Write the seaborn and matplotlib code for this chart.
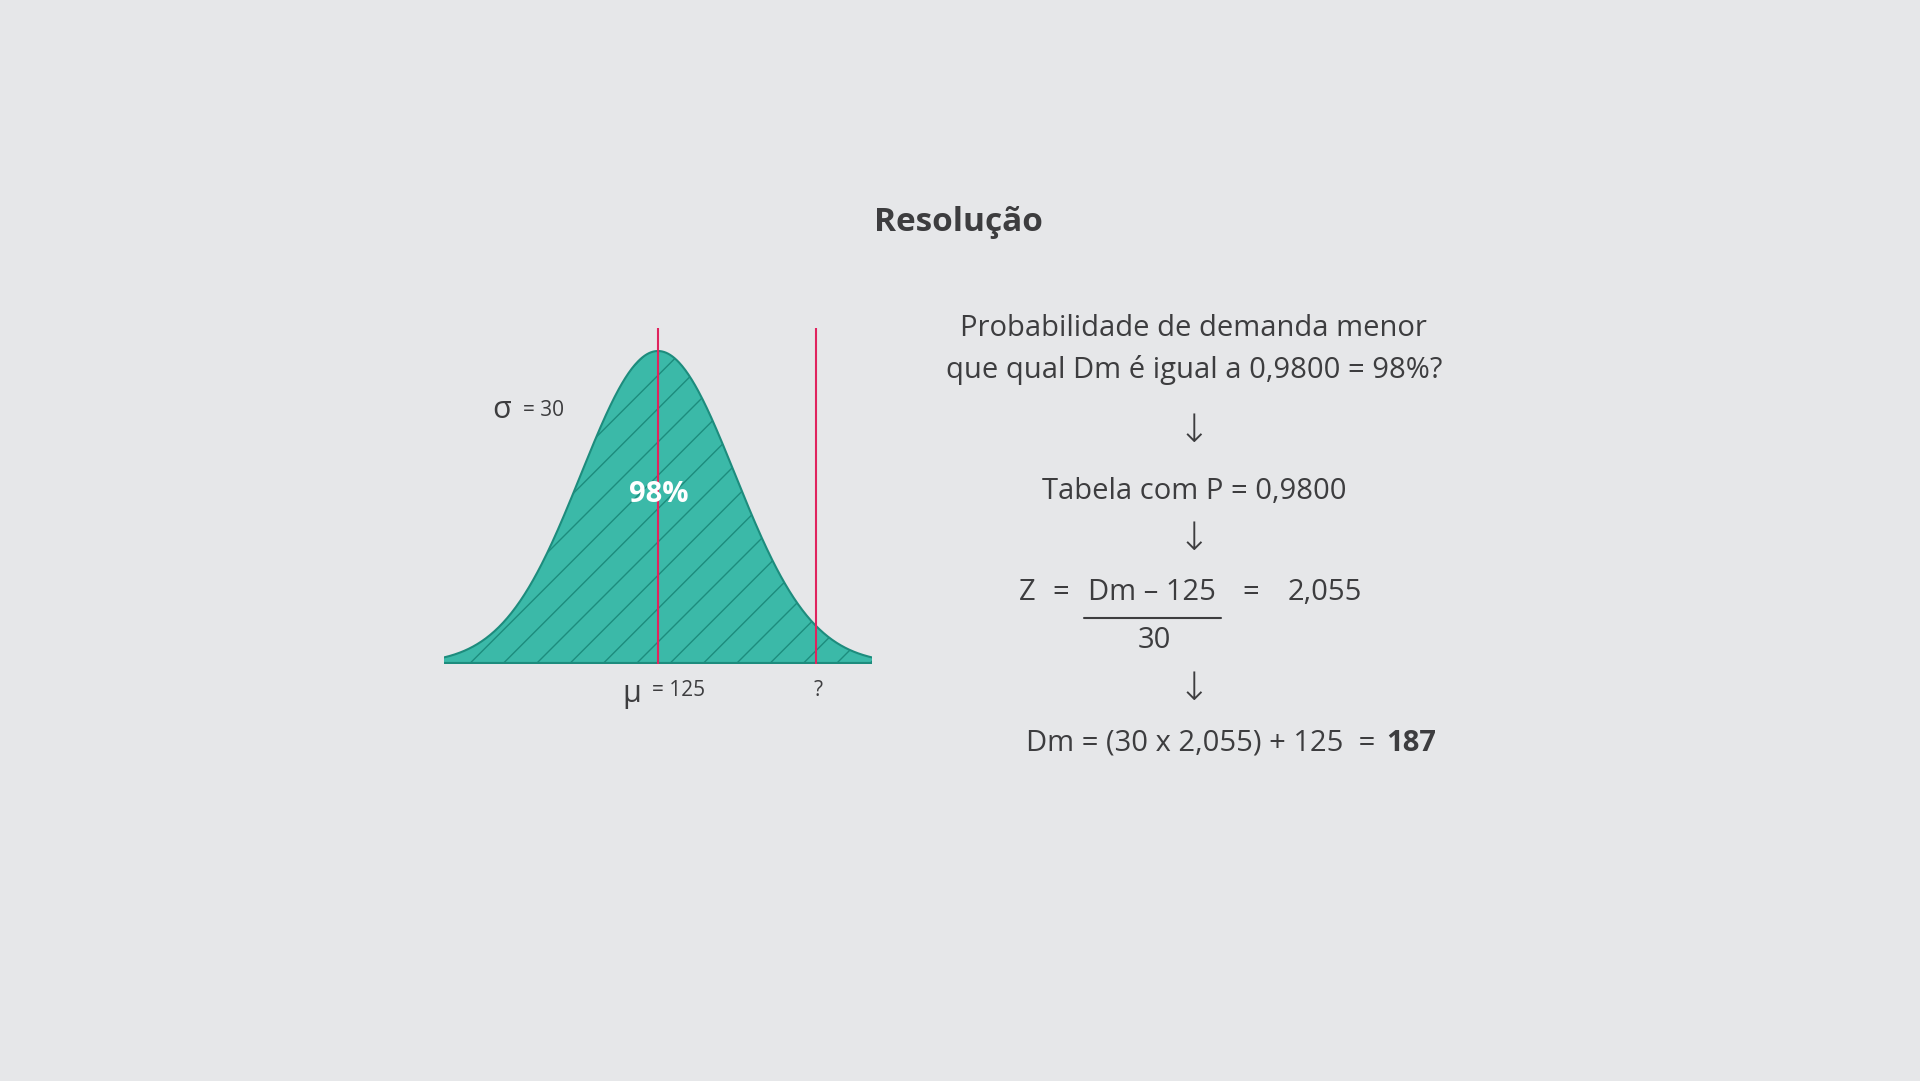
import numpy as np
import matplotlib
matplotlib.use("Agg")
import matplotlib.pyplot as plt
import seaborn as sns

mu = 125
sigma = 30
z_value = 2.055
dm = 187
x_range = [41.6, 208.4]
pct_label = "98%"

sns.set_theme(style="white")
plt.rcParams['font.family'] = ['Open Sans', 'DejaVu Sans']
plt.rcParams['hatch.linewidth'] = 1.0

BG = "#e6e7e9"
TXT = "#3d3d3f"
FILL = "#3bb9a8"
EDGE = "#1d8c7d"
RED = "#e0245e"

fig = plt.figure(figsize=(19.2, 10.81), dpi=100, facecolor=BG)
s = 1920 / 1568

ax = fig.add_axes([444/1920, 417/1081, 428/1920, 336/1081])
ax.set_facecolor("none")
xs = np.linspace(x_range[0], x_range[1], 400)
ys = np.exp(-((xs - mu) / sigma) ** 2 / 2)
sns.lineplot(x=xs, y=ys, ax=ax, color=EDGE, lw=1.5)
ax.fill_between(xs, 0, ys, facecolor=FILL, edgecolor=EDGE, hatch='/', lw=0)
ax.plot(x_range, [0, 0], color=EDGE, lw=3)
ax.axvline(mu, color=RED, lw=1.5)
ax.axvline(mu + z_value * sigma, color=RED, lw=1.5)
ax.set_xlim(x_range)
ax.set_ylim(0, 1.0735)
ax.axis('off')

def T(x, y, t, **kw):
    kw.setdefault('color', TXT)
    kw.setdefault('ha', 'center')
    kw.setdefault('va', 'center')
    fig.text(x * s / 1920, 1 - y * s / 1081, t, **kw)

T(783, 182, "Resolução", fontsize=24, fontweight='bold')
T(410, 335, "σ", fontsize=22)
T(444, 335, "= 30", fontsize=15)
T(538, 404, pct_label, fontsize=21, fontweight='bold', color='white')
T(516, 567, "μ", fontsize=22)
T(554, 564, f"= {mu}", fontsize=15)
T(668, 564, "?", fontsize=15)

T(975, 268, "Probabilidade de demanda menor", fontsize=21)
T(975, 302, "que qual Dm é igual a 0,9800 = 98%?", fontsize=21)
for y in [352, 440, 563]:
    T(975, y, "↓", fontsize=28, fontweight='light', family=['DejaVu Sans'])
T(975, 401, "Tabela com P = 0,9800", fontsize=21)
T(839, 484, "Z", fontsize=21)
T(866, 484, "=", fontsize=21)
T(941, 484, "Dm – 125", fontsize=21)
T(1021, 484, "=", fontsize=21)
T(1082, 484, f"{z_value:.3f}".replace('.', ','), fontsize=21)
fig.add_artist(plt.Line2D([885*s/1920, 997*s/1920], [1-505*s/1081]*2, color=TXT, lw=1.5))
T(943, 523, f"{sigma}", fontsize=21)
T(1129, 607, f"Dm = ({sigma} x 2,055) + {mu}  = ", fontsize=21, ha='right')
T(1132, 607, f"{dm}", fontsize=21, fontweight='bold', ha='left')

fig.savefig("out.png", dpi=100, facecolor=BG)
